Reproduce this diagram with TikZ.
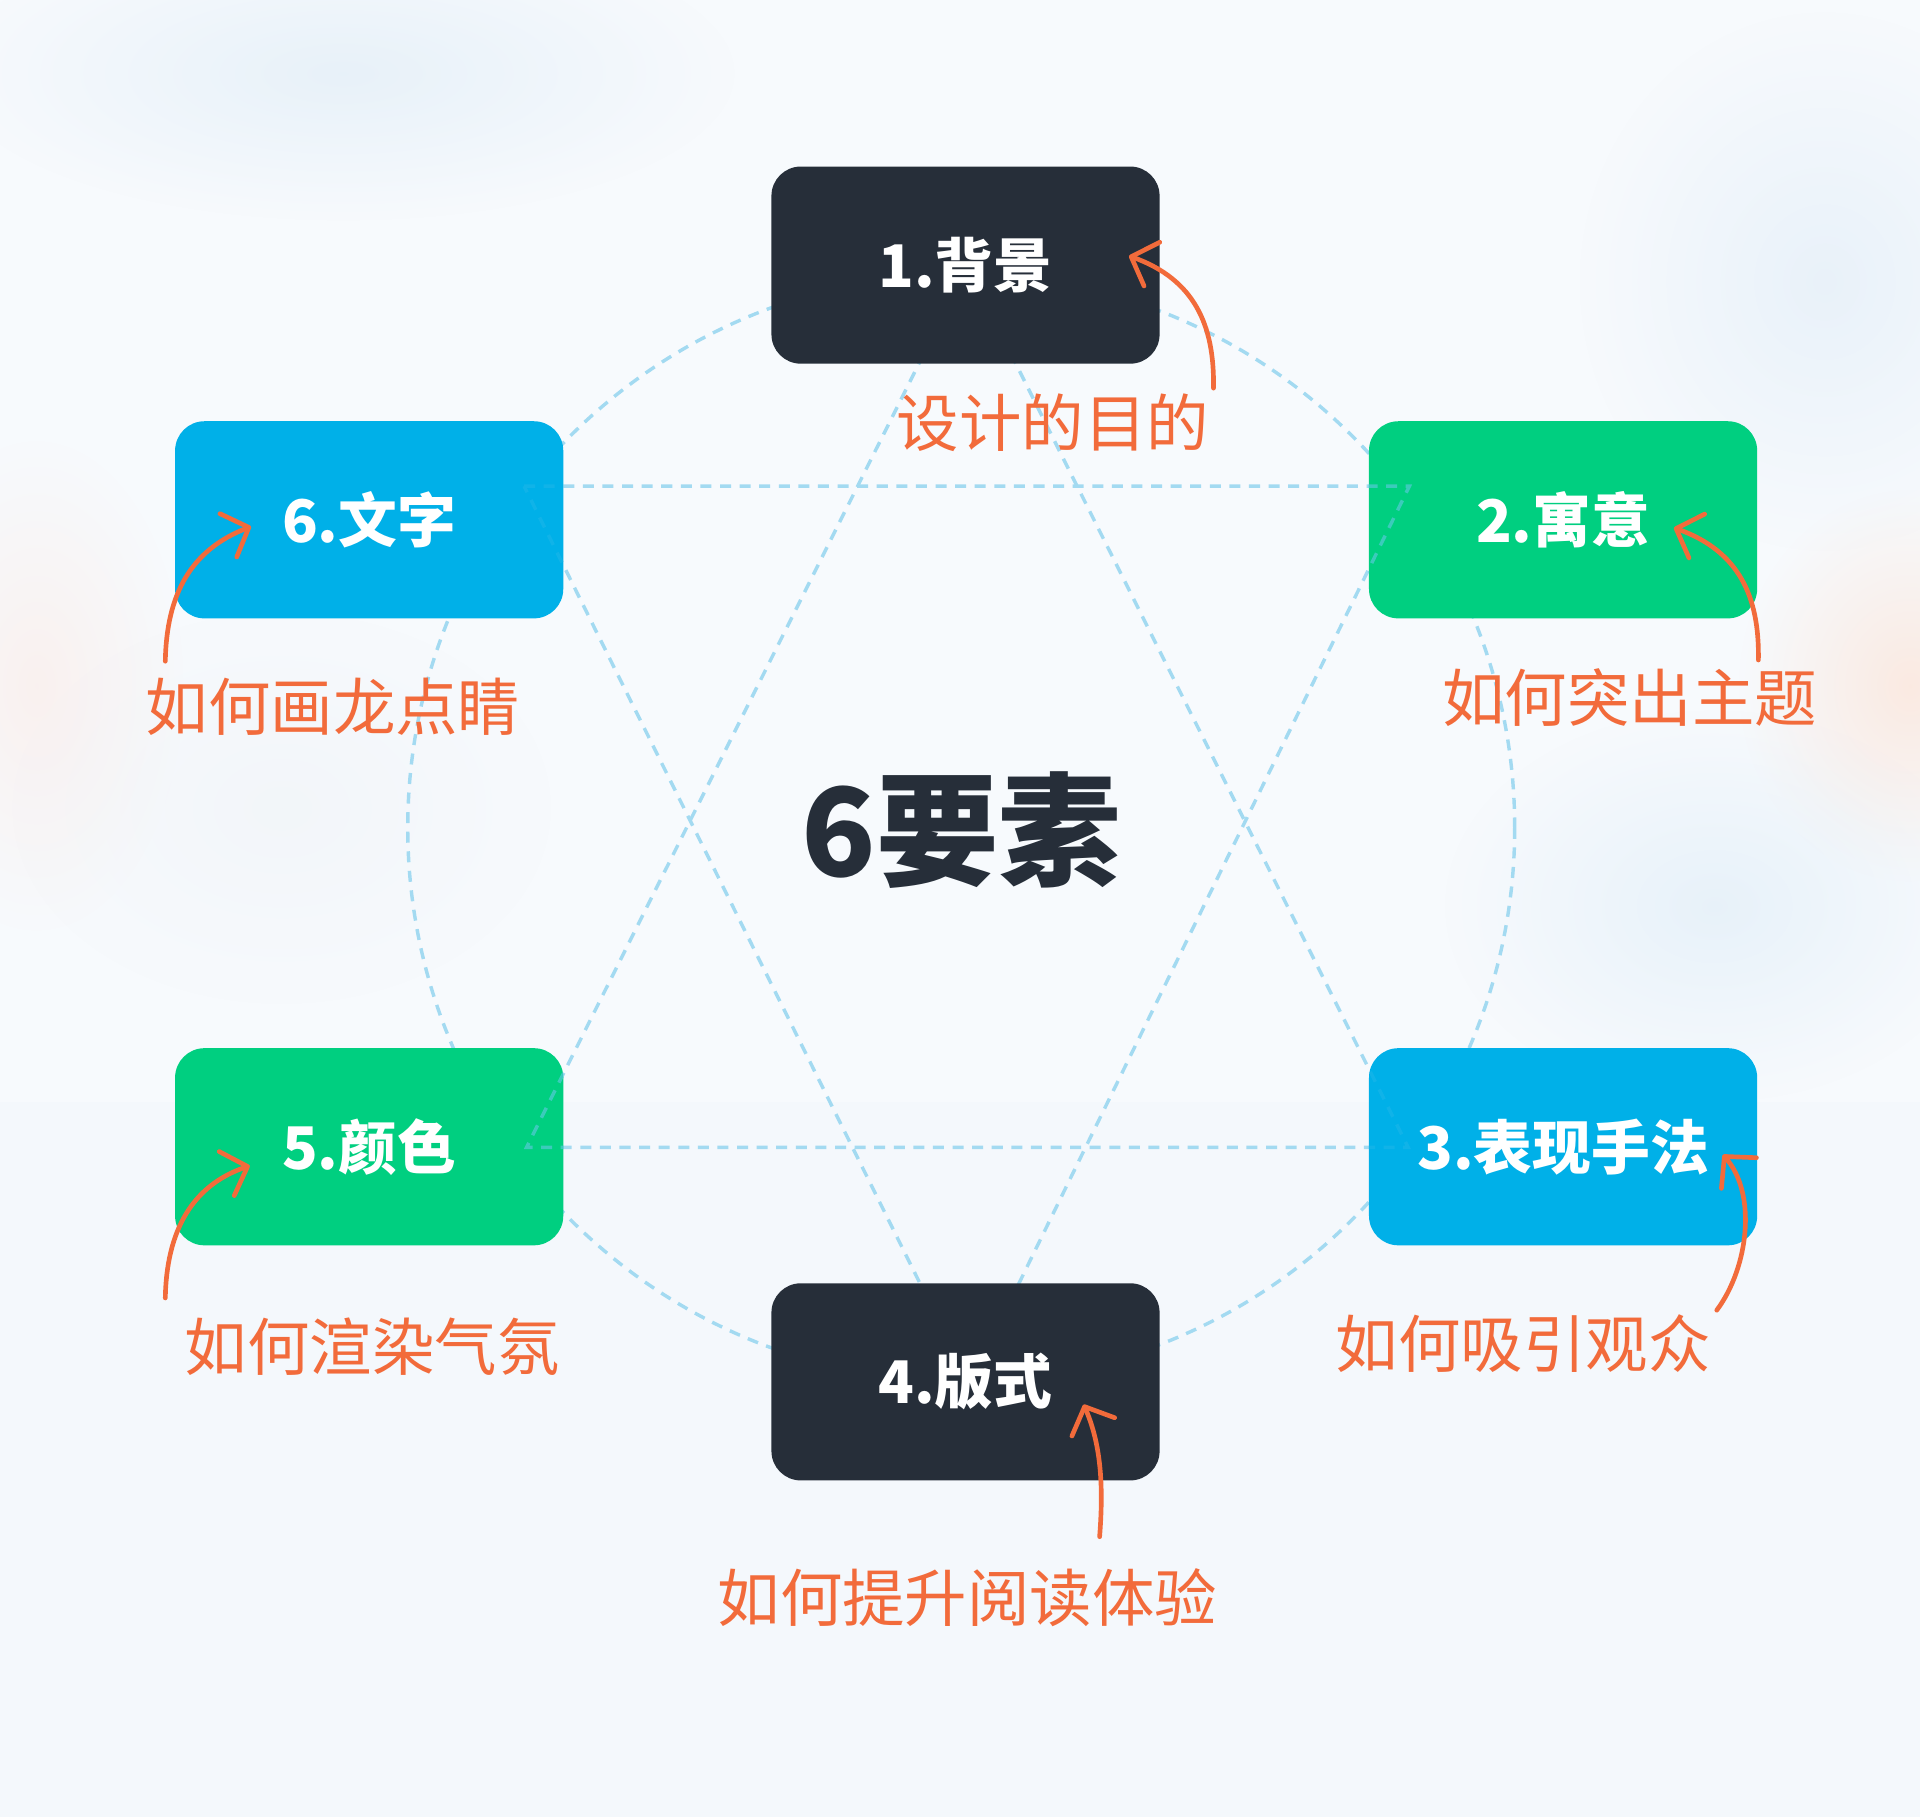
\documentclass[tikz,border=0pt]{standalone}
\usepackage{fontspec}
\newfontfamily\cjk{Noto Sans CJK SC}
\usetikzlibrary{arrows.meta,fadings}
\definecolor{bgc}{HTML}{F7FAFD}
\definecolor{darkbox}{HTML}{262E39}
\definecolor{greenbox}{HTML}{00CF80}
\definecolor{bluebox}{HTML}{00B0E8}
\definecolor{orangec}{HTML}{F26B3B}
\definecolor{dashc}{HTML}{6CC8EC}
\definecolor{dashbg}{HTML}{A3DAF1}
\definecolor{textdark}{HTML}{262E39}
\definecolor{blobA}{HTML}{E4EFF8}
\definecolor{blobB}{HTML}{E3EEF8}
\definecolor{blobC}{HTML}{FBEDE9}
\definecolor{blobD}{HTML}{FCE3D6}
\definecolor{blobE}{HTML}{E1EEF8}
\definecolor{blobF}{HTML}{EEF2F6}
\definecolor{lowbg}{HTML}{F4F8FC}
\tikzfading[name=softblob, inner color=transparent!0, outer color=transparent!100]
\begin{document}
\begin{tikzpicture}[x=1pt,y=-1pt,
  box/.style={rounded corners=24pt, minimum width=317pt, minimum height=161pt,
    inner sep=0pt, text=white, font=\cjk\bfseries\fontsize{48}{52}\selectfont},
  darkb/.style={box, fill=darkbox},
  greenb/.style={box, fill=greenbox},
  blueb/.style={box, fill=bluebox},
  note/.style={text=orangec, inner sep=0pt, font=\cjk\fontsize{51}{54}\selectfont},
  dline/.style={draw=dashbg, line width=2.8pt, dash pattern=on 9pt off 7pt},
  oline/.style={draw=dashc, line width=2.8pt, dash pattern=on 9pt off 7pt},
  arr/.style={draw=orangec, line width=3.8pt, line cap=round,
    -{Straight Barb[round,length=18pt,width=38pt]}},
  blob/.style={path fading=softblob}]
% background
\useasboundingbox (0,0) rectangle (1568,1484);
\fill[bgc] (0,0) rectangle (1568,1484);
\fill[blobA, opacity=0.8, blob] (280,60) ellipse (320 and 120);
\fill[blobB, opacity=0.7, blob] (1490,230) ellipse (200 and 220);
\fill[blobC, opacity=0.7, blob] (30,560) ellipse (120 and 200);
\fill[blobD, opacity=0.7, blob] (1560,560) ellipse (140 and 160);
\fill[blobE, opacity=0.7, blob] (1400,740) ellipse (220 and 160);
\fill[blobF, opacity=0.5, blob] (230,660) ellipse (220 and 160);
\fill[lowbg] (0,900) rectangle (1568,1484);

% structure coordinates
\coordinate (ctr) at (785,676);
\coordinate (tA) at (790,218);
\coordinate (lA) at (430,937);
\coordinate (rA) at (1150,937);
\coordinate (lB) at (428,397);
\coordinate (rB) at (1151,397);
\coordinate (bB) at (792,1130);

% dashed ring and star
\draw[dline] (ctr) circle (452);
\draw[dline] (tA) -- (lA) -- (rA) -- cycle;
\draw[dline] (lB) -- (rB) -- (bB) -- cycle;

% boxes
\node[darkb]  (b1) at (788.5,216.5) {1.背景};
\node[greenb] (b2) at (1276.5,424.5) {2.寓意};
\node[blueb]  (b3) at (1276.5,936.5) {3.表现手法};
\node[darkb]  (b4) at (788.5,1128.5) {4.版式};
\node[greenb] (b5) at (301.5,936.5) {5.颜色};
\node[blueb]  (b6) at (301.5,424.5) {6.文字};

% dashes seen over the coloured boxes
\begin{scope}
\clip[rounded corners=24pt] (b2.south west) rectangle (b2.north east)
                            (b5.south west) rectangle (b5.north east);
\begin{scope}[opacity=0.55]
\draw[oline] (tA) -- (lA) -- (rA) -- cycle;
\draw[oline] (lB) -- (rB) -- (bB) -- cycle;
\end{scope}
\end{scope}
\begin{scope}
\clip[rounded corners=24pt] (b3.south west) rectangle (b3.north east)
                            (b6.south west) rectangle (b6.north east);
\begin{scope}[opacity=0.15]
\draw[oline] (tA) -- (lA) -- (rA) -- cycle;
\draw[oline] (lB) -- (rB) -- (bB) -- cycle;
\end{scope}
\end{scope}

% centre title
\node[text=textdark, inner sep=0pt, font=\cjk\bfseries\fontsize{100}{104}\selectfont]
  (title) at (785,678) {6要素};

% notes
\node[note] (n1) at (860,345) {设计的目的};
\node[note] (n2) at (1331,570) {如何突出主题};
\node[note] (n3) at (1244,1097) {如何吸引观众};
\node[note] (n4) at (790,1305) {如何提升阅读体验};
\node[note] (n5) at (304,1100) {如何渲染气氛};
\node[note] (n6) at (272,577) {如何画龙点睛};

% arrow ends
\coordinate (s1) at (991,317);  \coordinate (t1) at (922,209);
\coordinate (s2) at (1436,539); \coordinate (t2) at (1367,431);
\coordinate (s3) at (1402,1070);\coordinate (t3) at (1407,943);
\coordinate (s4) at (898,1255); \coordinate (t4) at (885,1147);
\coordinate (s5) at (135,1060); \coordinate (t5) at (204,952);
\coordinate (s6) at (135,540);  \coordinate (t6) at (205,430);

\draw[arr] (s1) .. controls (992,265) and (975,228) .. (t1);
\draw[arr] (s2) .. controls (1437,487) and (1420,450) .. (t2);
\draw[arr] (s3) .. controls (1428,1035) and (1435,975) .. (t3);
\draw[arr] (s4) .. controls (902,1205) and (897,1175) .. (t4);
\draw[arr] (s5) .. controls (136,1005) and (157,968) .. (t5);
\draw[arr] (s6) .. controls (136,485) and (156,449) .. (t6);
\end{tikzpicture}
\end{document}
